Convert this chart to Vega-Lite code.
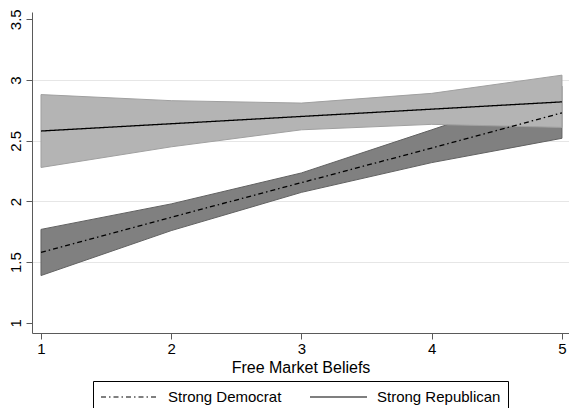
{
  "$schema": "https://vega.github.io/schema/vega-lite/v6.json",
  "autosize": "none",
  "padding": {"left": 32, "top": 12, "right": 0, "bottom": 75},
  "width": 537,
  "height": 321,
  "background": "white",
  "config": {
    "font": "Liberation Sans",
    "view": {"stroke": null},
    "axis": {
      "domainColor": "#5a5a5a",
      "tickColor": "#5a5a5a",
      "labelColor": "black",
      "titleColor": "black",
      "labelFont": "Liberation Sans",
      "titleFont": "Liberation Sans",
      "titleFontWeight": "normal"
    }
  },
  "data": {
    "values": [
      {"x": 1, "series": "Strong Democrat", "y": 1.58, "lo": 1.39, "hi": 1.77},
      {"x": 2, "series": "Strong Democrat", "y": 1.87, "lo": 1.76, "hi": 1.98},
      {"x": 3, "series": "Strong Democrat", "y": 2.155, "lo": 2.075, "hi": 2.235},
      {"x": 4, "series": "Strong Democrat", "y": 2.44, "lo": 2.32, "hi": 2.59},
      {"x": 5, "series": "Strong Democrat", "y": 2.73, "lo": 2.52, "hi": 2.95},
      {"x": 1, "series": "Strong Republican", "y": 2.58, "lo": 2.28, "hi": 2.88},
      {"x": 2, "series": "Strong Republican", "y": 2.64, "lo": 2.45, "hi": 2.83},
      {"x": 3, "series": "Strong Republican", "y": 2.70, "lo": 2.59, "hi": 2.81},
      {"x": 4, "series": "Strong Republican", "y": 2.76, "lo": 2.635, "hi": 2.89},
      {"x": 5, "series": "Strong Republican", "y": 2.82, "lo": 2.61, "hi": 3.04}
    ]
  },
  "encoding": {
    "x": {
      "field": "x",
      "type": "quantitative",
      "scale": {"domain": [0.931, 5.054], "nice": false, "zero": false},
      "axis": {
        "title": "Free Market Beliefs",
        "titleFontSize": 16,
        "titlePadding": 3,
        "values": [1, 2, 3, 4, 5],
        "labelFontSize": 15,
        "tickSize": 6,
        "labelPadding": 2,
        "grid": false,
        "labelFlush": false
      }
    },
    "y": {
      "field": "y",
      "type": "quantitative",
      "scale": {"domain": [0.917, 3.56], "nice": false, "zero": false},
      "axis": {
        "title": null,
        "values": [1, 1.5, 2, 2.5, 3, 3.5],
        "format": "~g",
        "labelAngle": 270,
        "labelFontSize": 15,
        "tickSize": 6,
        "labelPadding": 3,
        "labelFlush": false,
        "grid": true,
        "gridColor": {"condition": {"test": "datum.value == 1 || datum.value == 3.5", "value": "transparent"}, "value": "#e6e6e6"},
        "gridWidth": 1
      }
    }
  },
  "layer": [
    {
      "transform": [{"filter": "datum.series == 'Strong Democrat'"}],
      "mark": {"type": "area", "fill": "#808080", "fillOpacity": 1, "stroke": "#616161", "strokeWidth": 1},
      "encoding": {
        "y": {"field": "lo", "type": "quantitative"},
        "y2": {"field": "hi"}
      }
    },
    {
      "transform": [{"filter": "datum.series == 'Strong Republican'"}],
      "mark": {"type": "area", "fill": "#b4b4b4", "fillOpacity": 1, "stroke": "#a0a0a0", "strokeWidth": 1},
      "encoding": {
        "y": {"field": "lo", "type": "quantitative"},
        "y2": {"field": "hi"}
      }
    },
    {
      "mark": {"type": "line", "color": "black", "strokeWidth": 1.3},
      "encoding": {
        "strokeDash": {
          "field": "series",
          "type": "nominal",
          "scale": {"domain": ["Strong Democrat", "Strong Republican"], "range": [[5, 3, 1.5, 3], [1, 0]]},
          "legend": {
            "title": null,
            "orient": "none",
            "legendX": 61,
            "legendY": 369,
            "direction": "horizontal",
            "strokeColor": "black",
            "padding": 7,
            "clipHeight": 18,
            "symbolType": "stroke",
            "symbolSize": 3249,
            "symbolStrokeWidth": 1.2,
            "symbolStrokeColor": "black",
            "labelFontSize": 15,
            "labelFont": "Liberation Sans",
            "labelColor": "black",
            "labelOffset": 9,
            "columnPadding": 27
          }
        }
      }
    }
  ]
}
